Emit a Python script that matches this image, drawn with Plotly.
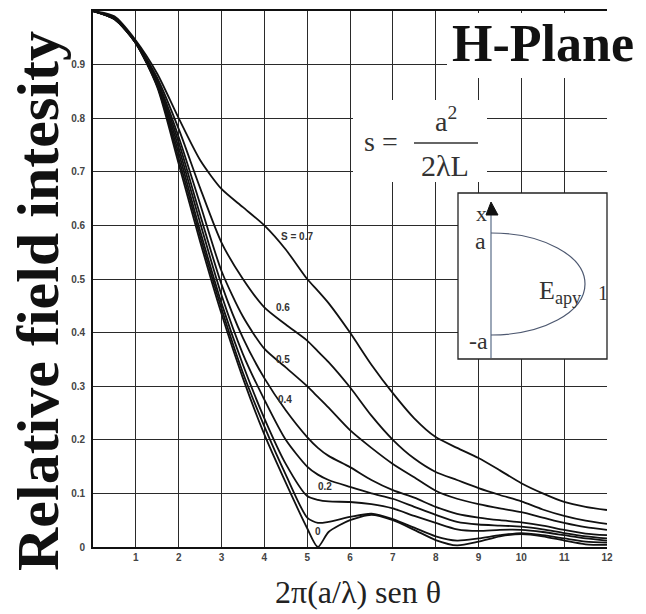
import plotly.graph_objects as go

# ---------------- data ----------------
x_vals = [0, 0.5, 1, 1.5, 2, 2.5, 3, 3.5, 4, 4.5, 5, 5.25, 5.5, 6, 6.5, 7, 7.5,
          8, 8.5, 9, 9.5, 10, 10.5, 11, 11.5, 12]

s_07 = [1, 0.99, 0.945, 0.883, 0.80, 0.722, 0.668, 0.634, 0.60, 0.555, 0.50, 0.478, 0.455,
        0.40, 0.34, 0.287, 0.24, 0.205, 0.185, 0.166, 0.143, 0.119, 0.10, 0.084, 0.075, 0.069]
s_06 = [1, 0.987, 0.943, 0.875, 0.78, 0.67, 0.568, 0.50, 0.447, 0.415, 0.385, 0.365, 0.345,
        0.298, 0.245, 0.20, 0.165, 0.14, 0.125, 0.11, 0.097, 0.085, 0.07, 0.058, 0.049, 0.043]
s_05 = [1, 0.986, 0.942, 0.87, 0.765, 0.64, 0.515, 0.43, 0.37, 0.335, 0.30, 0.28, 0.26,
        0.218, 0.185, 0.155, 0.13, 0.105, 0.09, 0.08, 0.072, 0.065, 0.055, 0.045, 0.037, 0.032]
s_04 = [1, 0.986, 0.941, 0.866, 0.755, 0.62, 0.49, 0.39, 0.315, 0.255, 0.205, 0.185, 0.17,
        0.149, 0.125, 0.106, 0.092, 0.075, 0.062, 0.055, 0.05, 0.046, 0.04, 0.032, 0.025, 0.022]
s_03 = [1, 0.985, 0.94, 0.863, 0.745, 0.605, 0.47, 0.36, 0.275, 0.20, 0.15, 0.135, 0.125,
        0.112, 0.10, 0.09, 0.075, 0.06, 0.047, 0.042, 0.04, 0.038, 0.033, 0.026, 0.02, 0.016]
s_02 = [1, 0.985, 0.94, 0.861, 0.735, 0.59, 0.455, 0.34, 0.24, 0.155, 0.095, 0.088, 0.085,
        0.084, 0.08, 0.072, 0.058, 0.045, 0.033, 0.03, 0.032, 0.032, 0.028, 0.022, 0.016, 0.012]
s_01 = [1, 0.985, 0.94, 0.86, 0.725, 0.58, 0.445, 0.325, 0.225, 0.135, 0.055, 0.045, 0.047,
        0.056, 0.062, 0.052, 0.036, 0.02, 0.012, 0.016, 0.022, 0.026, 0.022, 0.016, 0.01, 0.008]
s_00 = [1, 0.985, 0.94, 0.858, 0.715, 0.57, 0.435, 0.315, 0.21, 0.12, 0.035, 0.0, 0.028,
        0.05, 0.06, 0.05, 0.032, 0.013, 0.003, 0.01, 0.02, 0.024, 0.02, 0.012, 0.005, 0.004]

series_names = ["s=0.7", "s=0.6", "s=0.5", "s=0.4", "s=0.3", "s=0.2", "s=0.1", "s=0"]
series_vals = [s_07, s_06, s_05, s_04, s_03, s_02, s_01, s_00]

curve_labels = ["S = 0.7", "0.6", "0.5", "0.4", "0.2", "0"]
curve_label_x = [4.76, 4.44, 4.44, 4.48, 5.42, 5.25]
curve_label_y = [0.58, 0.446, 0.349, 0.275, 0.112, 0.028]

y_ticktext = ["0", "0.1", "0.2", "0.3", "0.4", "0.5", "0.6", "0.7", "0.8", "0.9", ""]
x_ticktext = ["", "1", "2", "3", "4", "5", "6", "7", "8", "9", "10", "11", "12"]

# ---------------- layout geometry ----------------
# the page body has an 8 px margin, so the figure is drawn 8 px lower/right
OFF = 8
W, H = 646 - OFF, 614 - OFF
ML, MT = 93 - OFF, 11 - OFF
PW, PH = 514, 536
MR, MB = W - ML - PW, H - MT - PH


def px(xp, yp):
    """page pixel -> paper coordinates"""
    return (xp - OFF - ML) / PW, (MT + PH - (yp - OFF)) / PH


fig = go.Figure()
for name, vals in zip(series_names, series_vals):
    fig.add_trace(go.Scatter(x=x_vals, y=vals, mode="lines", name=name,
                             line=dict(color="#111", width=1.8, shape="spline", smoothing=0.7),
                             showlegend=False, hoverinfo="skip"))

grid_col = "#2a2a2a"
fig.update_xaxes(range=[0, 12], tickvals=list(range(0, 13)), ticktext=x_ticktext,
                 showgrid=True, gridcolor=grid_col, gridwidth=1.4,
                 showline=True, linecolor="#111", linewidth=1.8, mirror=True,
                 ticks="", zeroline=False,
                 tickfont=dict(family="Liberation Sans", size=10, color="#444", weight="bold"))
fig.update_yaxes(range=[0, 1], tickvals=[i / 10 for i in range(11)], ticktext=y_ticktext,
                 showgrid=True, gridcolor=grid_col, gridwidth=1.4,
                 showline=True, linecolor="#111", linewidth=1.8,
                 ticks="", zeroline=False, ticklabelstandoff=4,
                 tickfont=dict(family="Liberation Sans", size=10, color="#444", weight="bold"))

shapes = []
annotations = []

# white patches hiding grid behind text blocks
for (x0, y0, x1, y1) in [(447, 13, 607, 78), (353, 100, 487, 182)]:
    a0, b0 = px(x0, y0)
    a1, b1 = px(x1, y1)
    shapes.append(dict(type="rect", xref="paper", yref="paper", x0=a0, x1=a1, y0=b1, y1=b0,
                       fillcolor="white", line=dict(width=0), layer="above"))

# inset box
a0, b0 = px(458, 193)
a1, b1 = px(607, 359)
shapes.append(dict(type="rect", xref="paper", yref="paper", x0=a0, x1=a1, y0=b1, y1=b0,
                   fillcolor="white", line=dict(color="#222", width=1.3), layer="above"))
# inset vertical axis
a0, b0 = px(491, 207)
a1, b1 = px(491, 358)
shapes.append(dict(type="line", xref="paper", yref="paper", x0=a0, x1=a1, y0=b0, y1=b1,
                   line=dict(color="#8391a6", width=1.6), layer="above"))
# arrow head
p1 = px(491, 202)
p2 = px(486, 215)
p3 = px(498, 215)
shapes.append(dict(type="path", xref="paper", yref="paper",
                   path=f"M {p1[0]},{p1[1]} L {p2[0]},{p2[1]} L {p3[0]},{p3[1]} Z",
                   fillcolor="#111", line=dict(color="#111", width=1), layer="above"))
# half ellipse of aperture distribution
cx, cy, rx, ry = 491, 284, 94, 51
k = 0.5523
pts = [(cx, cy - ry), (cx + k * rx, cy - ry), (cx + rx, cy - k * ry), (cx + rx, cy),
       (cx + rx, cy + k * ry), (cx + k * rx, cy + ry), (cx, cy + ry)]
pp = [px(*p) for p in pts]
path = (f"M {pp[0][0]},{pp[0][1]} C {pp[1][0]},{pp[1][1]} {pp[2][0]},{pp[2][1]} {pp[3][0]},{pp[3][1]} "
        f"C {pp[4][0]},{pp[4][1]} {pp[5][0]},{pp[5][1]} {pp[6][0]},{pp[6][1]}")
shapes.append(dict(type="path", xref="paper", yref="paper", path=path,
                   line=dict(color="#4d5870", width=1.2), layer="above"))

# fraction bar
a0, b0 = px(414, 143)
a1, b1 = px(478, 143)
shapes.append(dict(type="line", xref="paper", yref="paper", x0=a0, x1=a1, y0=b0, y1=b1,
                   line=dict(color="#333", width=1.4), layer="above"))


def add_text(text, xp, yp, size, family="Liberation Serif", color="#222", bold=False,
             angle=0, xanchor="center"):
    a, b = px(xp, yp)
    annotations.append(dict(text=f"<b>{text}</b>" if bold else text, x=a, y=b,
                            xref="paper", yref="paper", showarrow=False, textangle=angle,
                            xanchor=xanchor, yanchor="middle",
                            font=dict(family=family, size=size, color=color)))


add_text("Relative field intesity", 38, 301, 60, bold=True, angle=-90, color="#111")
add_text("2π(a/λ) sen θ", 358, 592, 32, color="#222")
add_text("H-Plane", 543, 44, 52, bold=True, color="#111")
add_text("s =", 381, 141, 28, color="#333")
add_text("a<sup>2</sup>", 446, 120, 28, color="#333")
add_text("2λL", 445, 165, 30, color="#333")
add_text("x", 481, 214, 22, color="#333")
add_text("a", 480, 241, 24, color="#333")
add_text("-a", 478, 341, 24, color="#333")
add_text("E<sub>apy</sub>", 560, 292, 26, color="#333")
add_text("1", 603, 293, 20, color="#333")

for t, xv, yv in zip(curve_labels, curve_label_x, curve_label_y):
    annotations.append(dict(text=t, x=xv, y=yv, xref="x", yref="y", showarrow=False,
                            font=dict(family="Liberation Sans", size=10, color="#333", weight="bold")))

fig.update_layout(width=W, height=H, margin=dict(l=ML, r=MR, t=MT, b=MB, autoexpand=False),
                  paper_bgcolor="white", plot_bgcolor="white",
                  shapes=shapes, annotations=annotations, showlegend=False)

fig.write_html("out.html")
